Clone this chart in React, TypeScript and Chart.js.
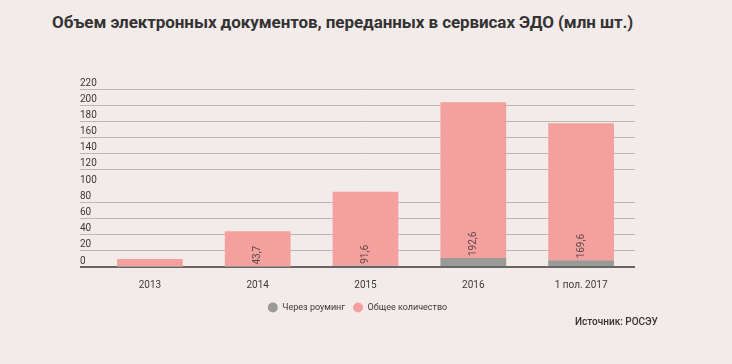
import React, { useEffect, useRef } from "react";
import { Chart, registerables } from "chart.js";

Chart.register(...registerables);

const categories = ["2013", "2014", "2015", "2016", "1 пол. 2017"];
const roamingValues = [0.2, 0.5, 1.5, 11, 8.2];
const totalValues = [9.8, 43.7, 91.6, 192.6, 169.6];
const yTicks = [0, 20, 40, 60, 80, 100, 120, 140, 160, 180, 200, 220];
const seriesNames = ["Через роуминг", "Общее количество"];

const BG = "#f3ebe9";
const PINK = "#f4a09f";
const GREY = "#9b9a99";

const valueLabelPlugin = {
  id: "valueLabels",
  afterDatasetsDraw(chart: any) {
    const ctx = chart.ctx;
    const meta = chart.getDatasetMeta(1);
    ctx.save();
    ctx.font = "10px Roboto";
    ctx.fillStyle = "#5b4848";
    ctx.textAlign = "left";
    ctx.textBaseline = "middle";
    meta.data.forEach((bar: any, i: number) => {
      const v = totalValues[i];
      if (v < 20) return;
      const txt = String(v).replace(".", ",");
      ctx.save();
      ctx.translate(bar.x, bar.base - 2);
      ctx.rotate(-Math.PI / 2);
      ctx.fillText(txt, 0, 0);
      ctx.restore();
    });
    ctx.restore();
  },
};

export default function App() {
  const ref = useRef<HTMLCanvasElement>(null);
  useEffect(() => {
    if (!ref.current) return;
    const chart = new Chart(ref.current, {
      type: "bar",
      data: {
        labels: categories,
        datasets: [
          {
            label: seriesNames[0],
            data: roamingValues,
            backgroundColor: GREY,
            borderWidth: 0,
            barPercentage: 0.61,
            categoryPercentage: 1,
          },
          {
            label: seriesNames[1],
            data: totalValues,
            backgroundColor: PINK,
            borderWidth: 0,
            barPercentage: 0.61,
            categoryPercentage: 1,
          },
        ],
      },
      options: {
        animation: false,
        responsive: false,
        layout: { padding: { left: 80, right: 97, top: 89, bottom: 42 } },
        scales: {
          x: {
            stacked: true,
            grid: { display: false },
            border: { display: false },
            ticks: { font: { family: "Roboto", size: 10 }, color: "#3a3a3a", padding: 4 },
          },
          y: {
            stacked: true,
            min: 0,
            max: 220,
            afterBuildTicks: (s: any) => {
              s.ticks = yTicks.map((v) => ({ value: v }));
            },
            afterFit: (s: any) => {
              s.width = 16;
            },
            border: { display: false },
            grid: {
              tickLength: 16,
              color: (c: any) =>
                c.tick && c.tick.value === 0 ? "#666" : c.tick && c.tick.value === 100 ? "rgba(0,0,0,0)" : "#bdb6b4",
              lineWidth: (c: any) => (c.tick && c.tick.value === 0 ? 2 : 1),
            },
            ticks: {
              autoSkip: false,
              mirror: true,
              padding: -16,
              labelOffset: -6,
              font: { family: "Roboto", size: 10 },
              color: "#3a3a3a",
            },
          },
        },
        plugins: {
          legend: {
            position: "bottom",
            labels: {
              usePointStyle: true,
              pointStyle: "circle",
              boxHeight: 7,
              pointStyleWidth: 10,
              padding: 8,
              color: "#3a3a3a",
              font: { family: "Roboto", size: 9 },
            },
          },
          tooltip: { enabled: false },
        },
      },
      plugins: [valueLabelPlugin],
    });
    return () => chart.destroy();
  }, []);

  return (
    <div style={{ position: "fixed", left: 0, top: 0, width: 732, height: 364, background: BG, overflow: "hidden" }}>
      <div
        style={{
          position: "absolute",
          left: 52,
          top: 12,
          fontFamily: "Roboto",
          fontWeight: 700,
          fontSize: 17,
          color: "#333",
          whiteSpace: "nowrap",
          letterSpacing: -0.08,
        }}
      >
        Объем электронных документов, переданных в сервисах ЭДО (млн шт.)
      </div>
      <canvas ref={ref} width={732} height={364} style={{ position: "absolute", left: 0, top: 0 }} />
      <div
        style={{
          position: "absolute",
          left: 575,
          top: 316,
          fontFamily: "Roboto",
          fontWeight: 500,
          fontSize: 10,
          color: "#333",
          whiteSpace: "nowrap",
        }}
      >
        Источник: РОСЭУ
      </div>
    </div>
  );
}
